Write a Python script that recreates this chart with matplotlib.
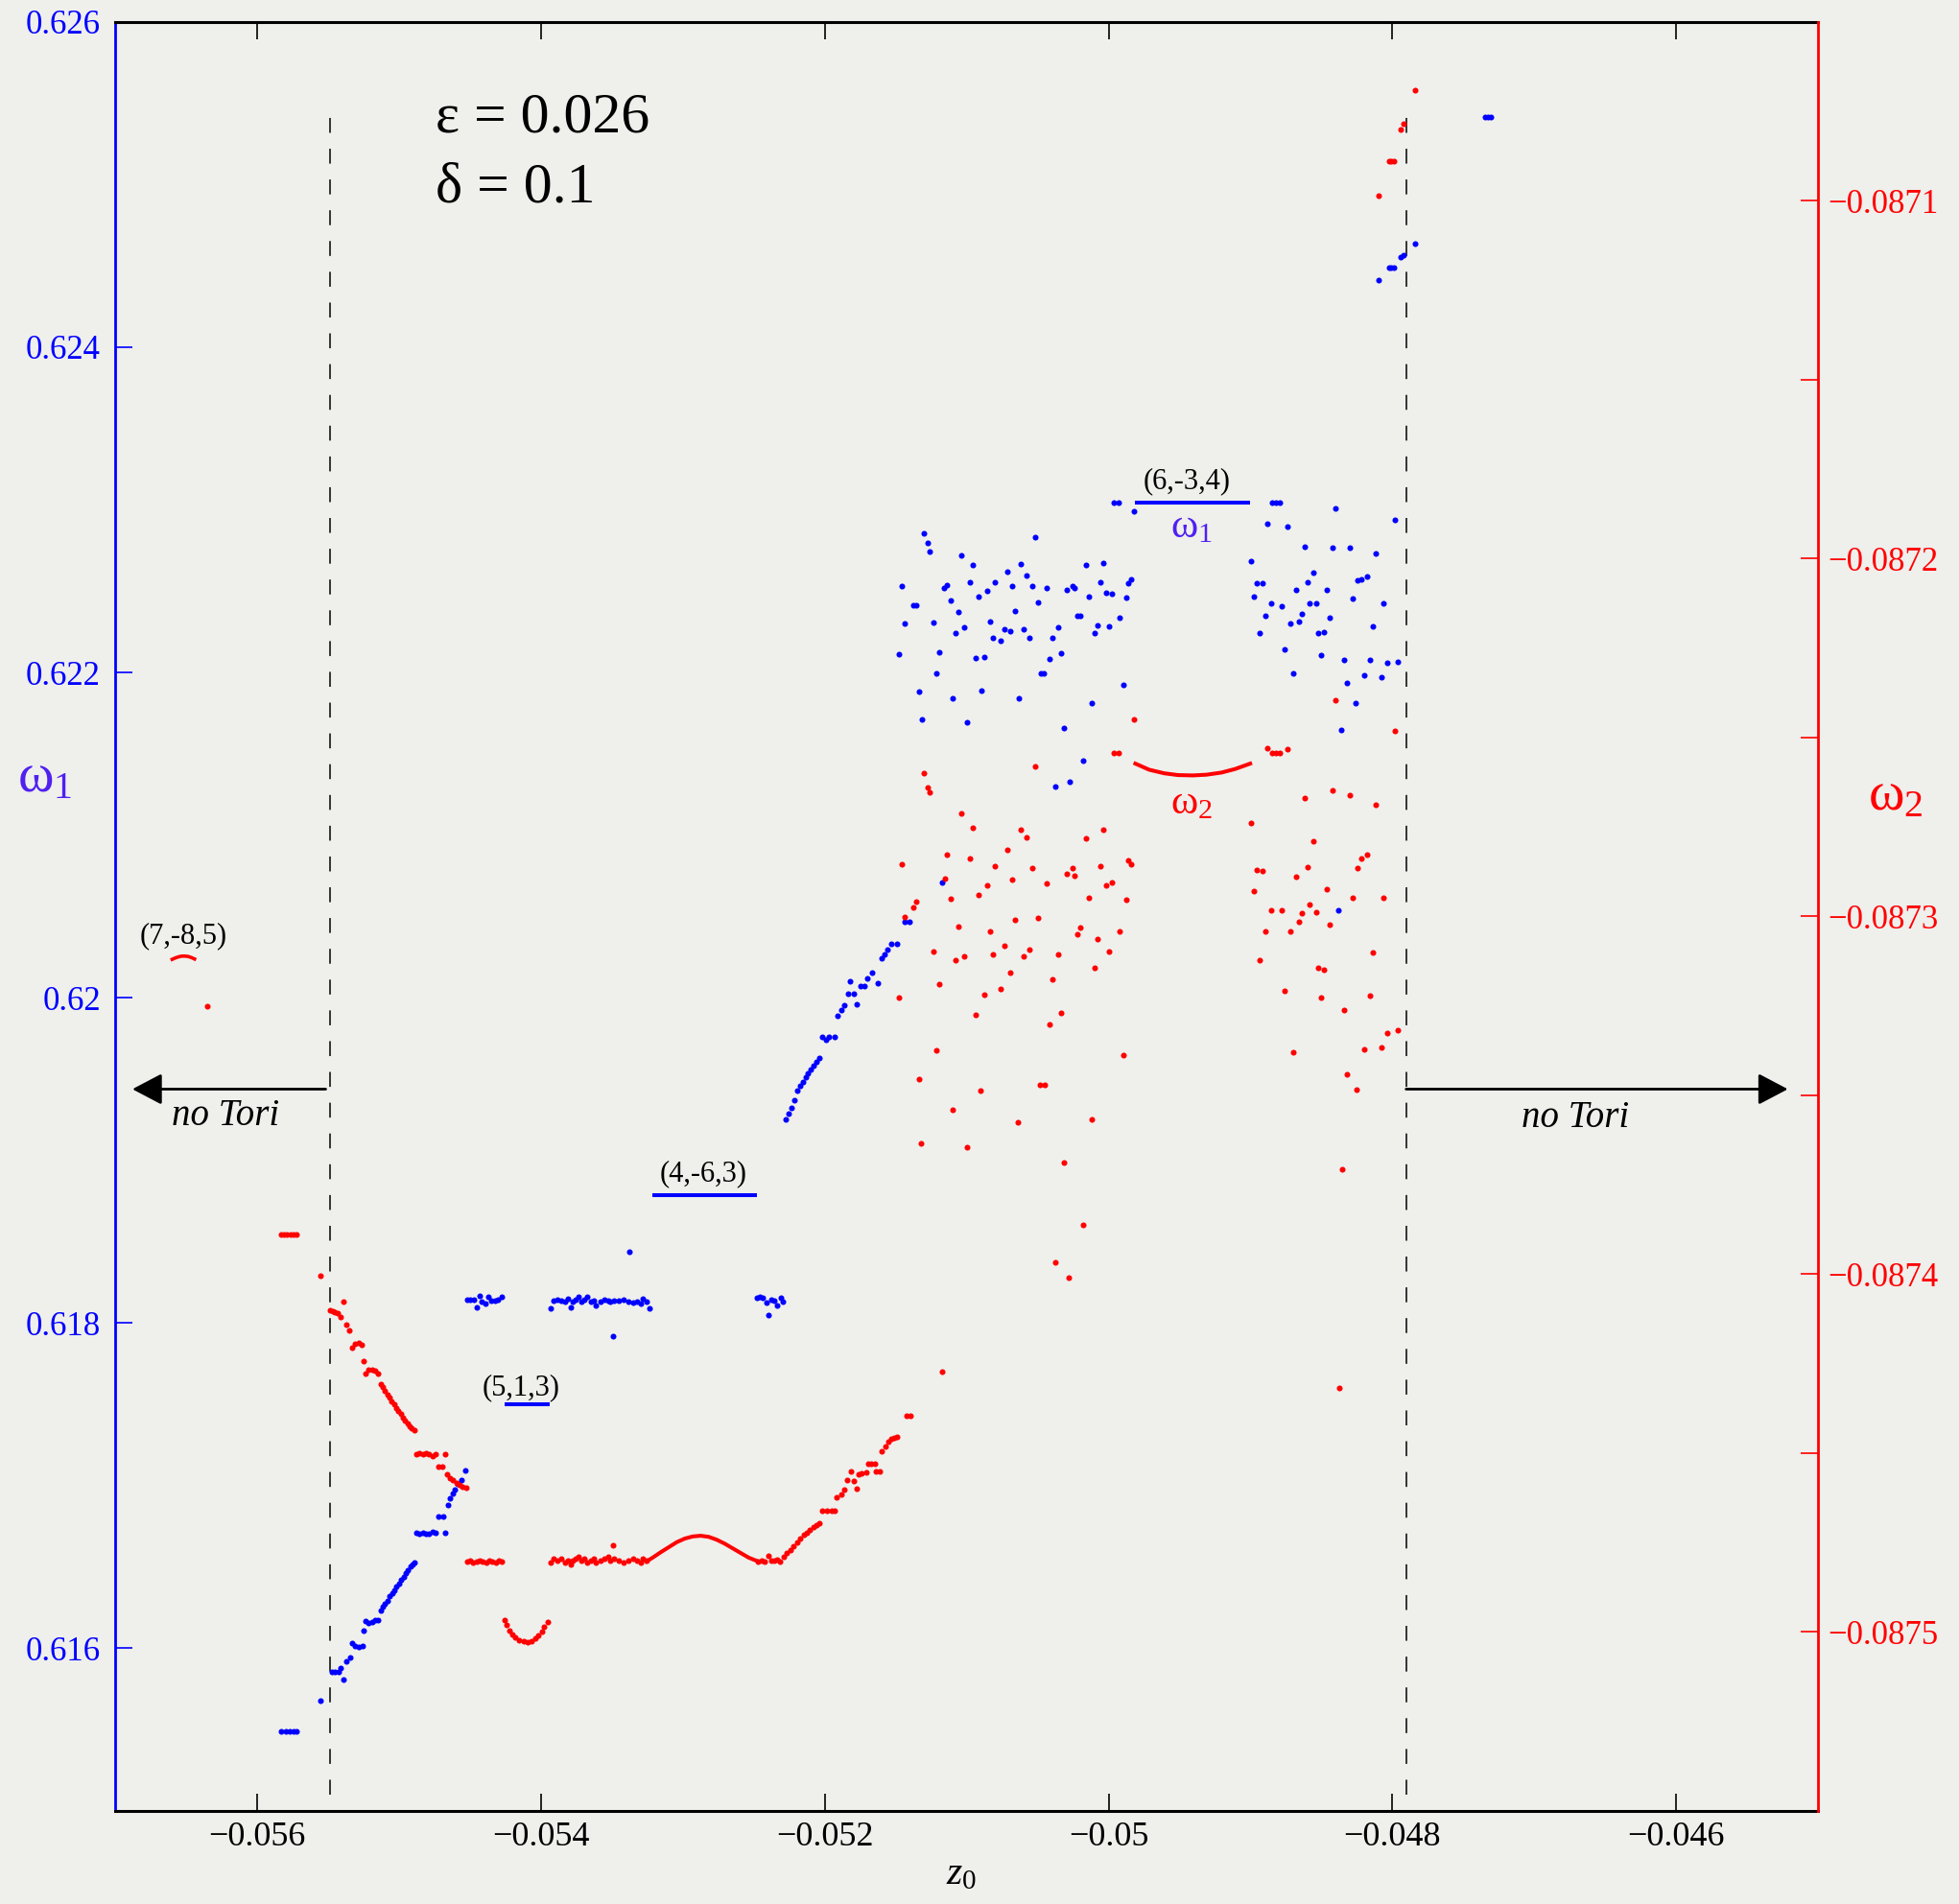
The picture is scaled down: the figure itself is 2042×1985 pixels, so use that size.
import numpy as np
import matplotlib
matplotlib.use("Agg")
import matplotlib.pyplot as plt

plt.rcParams["font.family"] = ["Liberation Serif", "DejaVu Serif"]
plt.rcParams["mathtext.fontset"] = "custom"
plt.rcParams["mathtext.rm"] = "Liberation Serif"
plt.rcParams["mathtext.it"] = "Liberation Serif:italic"

BLUE = "#0000ff"
RED = "#ff0000"
VIOLET = "#5020f0"
BG = "#efefec"

# ---------------- axes ----------------
x_ticks = [-0.056, -0.054, -0.052, -0.05, -0.048, -0.046]
x_tick_labels = ["\u22120.056", "\u22120.054", "\u22120.052", "\u22120.05", "\u22120.048", "\u22120.046"]
w1_ticks = [0.616, 0.618, 0.62, 0.622, 0.624, 0.626]
w1_tick_labels = ["0.616", "0.618", "0.62", "0.622", "0.624", "0.626"]
w2_ticks = [-0.0875, -0.0874, -0.0873, -0.0872, -0.0871]
w2_tick_labels = ["\u22120.0875", "\u22120.0874", "\u22120.0873", "\u22120.0872", "\u22120.0871"]
w2_minor = [-0.08745, -0.08735, -0.08725, -0.08715]

# ---------------- omega_1 (blue) ----------------
# chaotic cloud, left half
w1_cloud_z = [-0.0512991, -0.0512766, -0.0512586, -0.0505159, -0.0510358, -0.0509570, -0.0506172, -0.0501581, -0.0500388,
              -0.0514566, -0.0511573, -0.0511371, -0.0509773, -0.0507995, -0.0507162, -0.0506780, -0.0505789, -0.0505384,
              -0.0504394, -0.0502976, -0.0502571, -0.0502391, -0.0500591, -0.0500186, -0.0499781, -0.0498588, -0.0498385,
              -0.0501379, -0.0498768,
              -0.0513779, -0.0513554, -0.0511146, -0.0510583, -0.0509188, -0.0508558, -0.0506577, -0.0504979,
              -0.0514364, -0.0512361, -0.0510763, -0.0510178, -0.0508378, -0.0508175, -0.0507590, -0.0507365, -0.0506960,
              -0.0505970, -0.0505564, -0.0503967, -0.0503562, -0.0502234, -0.0501964, -0.0500996, -0.0500771, -0.0499983,
              -0.0499196,
              -0.0514746, -0.0511956, -0.0509368, -0.0508783, -0.0504169, -0.0503359, -0.0504777, -0.0504552, -0.0512158,
              -0.0513351, -0.0510966, -0.0508963, -0.0506352, -0.0501198, -0.0498970,
              -0.0513171, -0.0509975, -0.0503179,
              -0.0501784, -0.0503764, -0.0502774,
              -0.0511753,
              -0.0499601, -0.0499263, -0.0498183]
w1_cloud_w = [0.6228559, 0.6227981, 0.6227452, 0.6228294, 0.6227188, 0.6226635, 0.6226683, 0.6226635, 0.6226731,
              0.6225336, 0.6225167, 0.6225360, 0.6225528, 0.6225528, 0.6226178, 0.6225312, 0.6225937, 0.6225288,
              0.6225167, 0.6225095, 0.6225336, 0.6225167, 0.6225528, 0.6224903, 0.6224855, 0.6225504, 0.6225720,
              0.6224662, 0.6224590,
              0.6224109, 0.6224157, 0.6224422, 0.6223724, 0.6224662, 0.6224999, 0.6223772, 0.6224301,
              0.6223027, 0.6223075, 0.6222425, 0.6222786, 0.6223123, 0.6222137, 0.6221944, 0.6222666, 0.6222521,
              0.6222666, 0.6222113, 0.6222137, 0.6222786, 0.6223484, 0.6223484, 0.6222425, 0.6222906, 0.6222834,
              0.6223387,
              0.6221127, 0.6221223, 0.6220886, 0.6220934, 0.6220838, 0.6221199, 0.6219924, 0.6219924, 0.6219972,
              0.6218818, 0.6218408, 0.6218866, 0.6218384, 0.6218096, 0.6219250,
              0.6217110, 0.6216917, 0.6216556,
              0.6214584, 0.6212996, 0.6213261,
              0.6207103,
              0.6230435, 0.6230435, 0.6229882]
# chaotic cloud, right half
w1_cloud2_z = [-0.0488464, -0.0488239, -0.0487921, -0.0484008, -0.0479799, -0.0488801, -0.0487383,
               -0.0486191, -0.0484188, -0.0482995, -0.0481194, -0.0489994,
               -0.0485583, -0.0482455, -0.0482207, -0.0481780, -0.0489589, -0.0489184, -0.0485988, -0.0486798, -0.0484615,
               -0.0489791, -0.0482792, -0.0488576, -0.0487788, -0.0485808, -0.0485380, -0.0480609,
               -0.0488981, -0.0486393, -0.0484390, -0.0487203, -0.0486596, -0.0481397,
               -0.0489386, -0.0485200, -0.0484795,
               -0.0487608, -0.0484998, -0.0483400, -0.0481600, -0.0480384, -0.0479597,
               -0.0487001, -0.0482005, -0.0480789, -0.0483197,
               -0.0482612, -0.0483580, -0.0483783]
w1_cloud2_w = [0.6230435, 0.6230435, 0.6230435, 0.6230074, 0.6229377, 0.6229160, 0.6228968,
               0.6227717, 0.6227693, 0.6227693, 0.6227332, 0.6226851,
               0.6226129, 0.6225672, 0.6225696, 0.6225889, 0.6225480, 0.6225480, 0.6225552, 0.6225047, 0.6225071,
               0.6224638, 0.6224542, 0.6224253, 0.6224085, 0.6224253, 0.6224253, 0.6224229,
               0.6223484, 0.6223628, 0.6223387, 0.6223003, 0.6223147, 0.6222834,
               0.6222425, 0.6222449, 0.6222473,
               0.6221439, 0.6221055, 0.6220742, 0.6220742, 0.6220597, 0.6220645,
               0.6219972, 0.6219852, 0.6219683, 0.6219370,
               0.6218096, 0.6216484, 0.6205372]
# rising branch below the cloud
w1_chain_z = [-0.0514365, -0.0514038, -0.0514922, -0.0515347, -0.0515576, -0.0515773, -0.0515969, -0.0516263,
              -0.0516656, -0.0516983, -0.0517212, -0.0517474, -0.0518194, -0.0518390, -0.0517965, -0.0518619,
              -0.0517768, -0.0518848, -0.0519110, -0.0519274, -0.0519699, -0.0520157, -0.0519928, -0.0520353,
              -0.0520582, -0.0520811, -0.0521008, -0.0521171, -0.0521335, -0.0521531, -0.0521728, -0.0521924,
              -0.0522153, -0.0522349, -0.0522546, -0.0522742]
w1_chain_w = [0.6204666, 0.6204666, 0.6203330, 0.6203330, 0.6202937, 0.6202642, 0.6202407, 0.6200894,
              0.6201522, 0.6201169, 0.6200717, 0.6200717, 0.6200992, 0.6200245, 0.6200226, 0.6199538,
              0.6199577, 0.6199263, 0.6198909, 0.6197593, 0.6197593, 0.6197593, 0.6197396, 0.6196316,
              0.6196060, 0.6195805, 0.6195569, 0.6195333, 0.6195117, 0.6194842, 0.6194587, 0.6194272,
              0.6193722, 0.6193251, 0.6192897, 0.6192504]
# lower-left branch
w1_low_z = [-0.05583, -0.05580, -0.05577, -0.05574, -0.05572, -0.0555521,
            -0.0554733, -0.0554508, -0.0554283, -0.0553900, -0.0554126, -0.0553720, -0.0553451,
            -0.0553316, -0.0553090, -0.0552866, -0.0552595, -0.0552528, -0.0552370, -0.0552145, -0.0551920,
            -0.0551695, -0.0551470,
            -0.0551290, -0.0551133, -0.0550975, -0.0550795, -0.0550638, -0.0550480, -0.0550323, -0.0550165,
            -0.0550008, -0.0549850, -0.0549670, -0.0549513, -0.0549355, -0.0549198, -0.0549040, -0.0548883,
            -0.0548770, -0.0548545, -0.0548320, -0.0548095, -0.0547870, -0.0547645, -0.0547420, -0.0546768,
            -0.0547195, -0.0546858,
            -0.0546565, -0.0546407, -0.0546227, -0.0546070, -0.0545845, -0.0545620, -0.0545327]
w1_low_w = [0.6154906, 0.6154906, 0.6154906, 0.6154906, 0.6154906, 0.6156800,
            0.6158527, 0.6158527, 0.6158527, 0.6158059, 0.6158791, 0.6159177, 0.6159441,
            0.6160295, 0.6160153, 0.6160092, 0.6160153, 0.6161108, 0.6161677, 0.6161575, 0.6161636,
            0.6161717, 0.6161717,
            0.6162327, 0.6162530, 0.6162734, 0.6162937, 0.6163181, 0.6163384, 0.6163587, 0.6163790,
            0.6163994, 0.6164197, 0.6164400, 0.6164603, 0.6164807, 0.6165010, 0.6165172, 0.6165294,
            0.6167103, 0.6167062, 0.6167103, 0.6167022, 0.6167062, 0.6167164, 0.6167103, 0.6167103,
            0.6168079, 0.6168079,
            0.6168831, 0.6169196, 0.6169501, 0.6169765, 0.6170111, 0.6170314, 0.6170924]
# scattered points near 0.618
w1_mid_z = [-0.0545215, -0.0544990, -0.0544720, -0.0544495, -0.0544315, -0.0544157, -0.0543932, -0.0543707,
            -0.0543482, -0.0543257, -0.0543032, -0.0542740,
            -0.0539319, -0.0539139, -0.0538869, -0.0538599, -0.0538307, -0.0538082, -0.0537924, -0.0537744,
            -0.0537564, -0.0537339, -0.0537182, -0.0536957, -0.0536732, -0.0536506, -0.0536281, -0.0536124,
            -0.0535831, -0.0535539, -0.0535269, -0.0535156, -0.0534819, -0.0534481, -0.0534144, -0.0533806,
            -0.0533469, -0.0533199, -0.0532974, -0.0532794, -0.0532569, -0.0532344,
            -0.0533739, -0.0534931,
            -0.0524806, -0.0524581, -0.0524356, -0.0524131, -0.0523793, -0.0523568, -0.0523343, -0.0523118,
            -0.0522938, -0.0523973]
w1_mid_w = [0.6181431, 0.6181431, 0.6181431, 0.6180984, 0.6181695, 0.6181289, 0.6181187, 0.6181593,
            0.6181390, 0.6181390, 0.6181431, 0.6181634,
            0.6180882, 0.6181390, 0.6181431, 0.6181390, 0.6181289, 0.6181492, 0.6180943, 0.6181289,
            0.6181431, 0.6181634, 0.6181289, 0.6181431, 0.6181634, 0.6181289, 0.6181390, 0.6181085,
            0.6181289, 0.6181431, 0.6181390, 0.6181289, 0.6181390, 0.6181390, 0.6181431, 0.6181289,
            0.6181228, 0.6181289, 0.6181187, 0.6181492, 0.6181289, 0.6180882,
            0.6184378, 0.6179175,
            0.6181525, 0.6181631, 0.6181525, 0.6181252, 0.6181420, 0.6181357, 0.6181105, 0.6181525,
            0.6181315, 0.6180473]
# points beyond the right border line
w1_top_z = [-0.0473503, -0.0473278, -0.0473053, -0.0478409, -0.0479422, -0.0479196, -0.0480254, -0.0480096,
            -0.0479917, -0.0480997]
w1_top_w = [0.6254172, 0.6254172, 0.6254172, 0.6246373, 0.6245548, 0.6245686, 0.6244880, 0.6244880,
            0.6244880, 0.6244134]
# resonance plateaus
res_labels = ["(4,-6,3)", "(5,1,3)", "(6,-3,4)"]
res_z_start = [-0.0532119, -0.0542582, -0.0498111]
res_z_end = [-0.0524806, -0.0539387, -0.0490024]
res_w1 = [0.6187882, 0.6174988, 0.6230451]

# ---------------- omega_2 (red) ----------------
w2_cloud_z = [-0.0498183, -0.0499601, -0.0499263, -0.0505159, -0.0512991, -0.0512766, -0.0512586, -0.0510358,
              -0.0509570, -0.0506172, -0.0505767, -0.0501581, -0.0500388,
              -0.0514566, -0.0511371, -0.0509773, -0.0507995, -0.0507162, -0.0505384, -0.0504394, -0.0502976,
              -0.0502571, -0.0502391, -0.0500591, -0.0500186, -0.0499781, -0.0498588, -0.0498385,
              -0.0511551, -0.0511146, -0.0509188, -0.0508558, -0.0506780, -0.0501379, -0.0498768,
              -0.0513779, -0.0513554, -0.0514364, -0.0510583, -0.0508378, -0.0506577, -0.0504979, -0.0502234,
              -0.0501964, -0.0500771, -0.0499196,
              -0.0512361, -0.0510763, -0.0510178, -0.0508175, -0.0507365, -0.0505970, -0.0505564, -0.0503562,
              -0.0499983, -0.0500996,
              -0.0511956, -0.0508783, -0.0507590, -0.0506960, -0.0503967, -0.0514746,
              -0.0509368, -0.0504169, -0.0503359,
              -0.0512158, -0.0498970]
w2_cloud_w = [-0.0872450, -0.0872543, -0.0872543, -0.0872581, -0.0872600, -0.0872641, -0.0872652, -0.0872711,
              -0.0872753, -0.0872757, -0.0872779, -0.0872782, -0.0872759,
              -0.0872854, -0.0872828, -0.0872839, -0.0872860, -0.0872813, -0.0872866, -0.0872907, -0.0872880,
              -0.0872864, -0.0872887, -0.0872860, -0.0872912, -0.0872906, -0.0872844, -0.0872854,
              -0.0872894, -0.0872952, -0.0872940, -0.0872912, -0.0872896, -0.0872947, -0.0872954,
              -0.0872975, -0.0872958, -0.0873003, -0.0873029, -0.0873041, -0.0873010, -0.0873004, -0.0873049,
              -0.0873032, -0.0873062, -0.0873043,
              -0.0873098, -0.0873122, -0.0873111, -0.0873107, -0.0873083, -0.0873111, -0.0873093, -0.0873107,
              -0.0873097, -0.0873143,
              -0.0873190, -0.0873218, -0.0873202, -0.0873156, -0.0873176, -0.0873227,
              -0.0873276, -0.0873302, -0.0873269,
              -0.0873374, -0.0873389]
w2_cloud2_z = [-0.0484008, -0.0479799, -0.0488801, -0.0488464, -0.0488239, -0.0487921, -0.0487383,
               -0.0484188, -0.0482995, -0.0486191, -0.0481194, -0.0489994, -0.0485583,
               -0.0482207, -0.0481780, -0.0482455, -0.0485988, -0.0489589, -0.0489184, -0.0486798,
               -0.0489791, -0.0484615, -0.0482792, -0.0480609,
               -0.0488576, -0.0487788, -0.0485808, -0.0485380, -0.0486393, -0.0484390, -0.0486596, -0.0487203,
               -0.0488981,
               -0.0481397, -0.0489386, -0.0485200, -0.0484795,
               -0.0487608, -0.0484998, -0.0481600, -0.0483400,
               -0.0480384, -0.0479597, -0.0482005, -0.0480789, -0.0487001]
w2_cloud2_w = [-0.0872396, -0.0872482, -0.0872530, -0.0872543, -0.0872543, -0.0872543, -0.0872533,
               -0.0872647, -0.0872660, -0.0872669, -0.0872688, -0.0872738, -0.0872789,
               -0.0872837, -0.0872828, -0.0872865, -0.0872861, -0.0872870, -0.0872874, -0.0872889,
               -0.0872929, -0.0872923, -0.0872947, -0.0872948,
               -0.0872982, -0.0872982, -0.0872967, -0.0872988, -0.0872990, -0.0873022, -0.0873015, -0.0873042,
               -0.0873043,
               -0.0873102, -0.0873123, -0.0873145, -0.0873148,
               -0.0873207, -0.0873226, -0.0873221, -0.0873263,
               -0.0873326, -0.0873318, -0.0873372, -0.0873365, -0.0873380]
w2_sparse_z = [-0.0513351, -0.0509000, -0.0504844, -0.0504484, -0.0483216, -0.0482562, -0.0510995, -0.0506382,
               -0.0501179, -0.0513188, -0.0509981, -0.0503175, -0.0483576, -0.0501768, -0.0503764, -0.0502783,
               -0.0483772]
w2_sparse_w = [-0.0873455, -0.0873487, -0.0873472, -0.0873472, -0.0873442, -0.0873483, -0.0873540, -0.0873576,
               -0.0873567, -0.0873635, -0.0873645, -0.0873688, -0.0873706, -0.0873861, -0.0873968, -0.0874009,
               -0.0874318]
# rising branch after the wave
w2_rise_z = [-0.0524693, -0.0524468, -0.0524243, -0.0523973, -0.0523793, -0.0523568, -0.0523343, -0.0523163,
             -0.0522893, -0.0522668, -0.0522443, -0.0522218, -0.0521948, -0.0521723, -0.0521498, -0.0521273,
             -0.0521048, -0.0520823, -0.0520598, -0.0520373,
             -0.0520193, -0.0519855, -0.0519518, -0.0519293, -0.0519181, -0.0518843, -0.0518618, -0.0518393,
             -0.0518168, -0.0517943, -0.0517763, -0.0517605, -0.0517380, -0.0517088, -0.0516930, -0.0516705,
             -0.0516480, -0.0516368, -0.0516098, -0.0515963, -0.0515738, -0.0515513, -0.0515288, -0.0515086,
             -0.0514905, -0.0514230, -0.0513937, -0.0511755]
w2_rise_w = [-0.0874804, -0.0874801, -0.0874804, -0.0874787, -0.0874801, -0.0874801, -0.0874798, -0.0874804,
             -0.0874789, -0.0874779, -0.0874770, -0.0874760, -0.0874749, -0.0874739, -0.0874729, -0.0874722,
             -0.0874715, -0.0874707, -0.0874701, -0.0874696,
             -0.0874662, -0.0874660, -0.0874660, -0.0874660, -0.0874624, -0.0874615, -0.0874603, -0.0874576,
             -0.0874550, -0.0874578, -0.0874600, -0.0874560, -0.0874557, -0.0874555, -0.0874530, -0.0874530,
             -0.0874530, -0.0874552, -0.0874550, -0.0874495, -0.0874481, -0.0874469, -0.0874459, -0.0874457,
             -0.0874455, -0.0874397, -0.0874397, -0.0874272]
# lower-left branch
w2_low_z = [-0.0558333, -0.0558108, -0.0557883, -0.0557658, -0.0557433, -0.0557208, -0.0555521, -0.0553900,
            -0.0554846, -0.0554666, -0.0554508, -0.0554351, -0.0554126, -0.0553720, -0.0553496, -0.0553316,
            -0.0553090, -0.0552866, -0.0552641, -0.0552528, -0.0552370, -0.0552145, -0.0551920, -0.0551695,
            -0.0551470,
            -0.0551290, -0.0551133, -0.0550975, -0.0550818, -0.0550660, -0.0550503, -0.0550345, -0.0550188,
            -0.0550030, -0.0549873, -0.0549715, -0.0549558, -0.0549400, -0.0549243, -0.0549085, -0.0548905,
            -0.0548770, -0.0548545, -0.0548320, -0.0548095, -0.0547870, -0.0547645, -0.0547420, -0.0546745,
            -0.0547195, -0.0546970,
            -0.0546632, -0.0546407, -0.0546182, -0.0545957, -0.0545732, -0.0545507, -0.0545282]
w2_low_w = [-0.0873890, -0.0873890, -0.0873890, -0.0873890, -0.0873890, -0.0873890, -0.0874003, -0.0874078,
            -0.0874101, -0.0874103, -0.0874105, -0.0874110, -0.0874120, -0.0874140, -0.0874157, -0.0874206,
            -0.0874195, -0.0874193, -0.0874197, -0.0874243, -0.0874277, -0.0874267, -0.0874267, -0.0874271,
            -0.0874277,
            -0.0874306, -0.0874316, -0.0874327, -0.0874336, -0.0874346, -0.0874355, -0.0874364, -0.0874373,
            -0.0874382, -0.0874391, -0.0874401, -0.0874408, -0.0874417, -0.0874425, -0.0874430, -0.0874437,
            -0.0874503, -0.0874500, -0.0874503, -0.0874500, -0.0874503, -0.0874508, -0.0874503, -0.0874503,
            -0.0874537, -0.0874537,
            -0.0874560, -0.0874570, -0.0874576, -0.0874583, -0.0874590, -0.0874593, -0.0874597]
# flat parts at the bottom
w2_flat_z = [-0.0545215, -0.0544990, -0.0544765, -0.0544540, -0.0544315, -0.0544090, -0.0543865, -0.0543640,
             -0.0543415, -0.0543190, -0.0542965, -0.0542740,
             -0.0539319, -0.0539139, -0.0538869, -0.0538599, -0.0538307, -0.0538082, -0.0537924, -0.0537744,
             -0.0537564, -0.0537339, -0.0537182, -0.0536957, -0.0536732, -0.0536506, -0.0536281, -0.0536124,
             -0.0535831, -0.0535539, -0.0535269, -0.0535156, -0.0534819, -0.0534481, -0.0534144, -0.0533806,
             -0.0533469, -0.0533199, -0.0532974, -0.0532794, -0.0532569, -0.0534931]
w2_flat_w = [-0.0874803, -0.0874801, -0.0874807, -0.0874803, -0.0874801, -0.0874803, -0.0874807, -0.0874801,
             -0.0874803, -0.0874805, -0.0874801, -0.0874803,
             -0.0874805, -0.0874796, -0.0874801, -0.0874796, -0.0874805, -0.0874801, -0.0874810, -0.0874801,
             -0.0874796, -0.0874791, -0.0874801, -0.0874796, -0.0874805, -0.0874801, -0.0874796, -0.0874805,
             -0.0874801, -0.0874796, -0.0874791, -0.0874801, -0.0874796, -0.0874801, -0.0874805, -0.0874801,
             -0.0874796, -0.0874801, -0.0874805, -0.0874796, -0.0874801, -0.0874757]
# (5,1,3) dip
w2_dip_z = [-0.0542582, -0.0542424, -0.0542244, -0.0542019, -0.0541794, -0.0541569, -0.0541232, -0.0540939,
            -0.0540669, -0.0540399, -0.0540174, -0.0539949, -0.0539769, -0.0539544]
w2_dip_w = [-0.0874967, -0.0874981, -0.0874995, -0.0875007, -0.0875016, -0.0875022, -0.0875027, -0.0875029,
            -0.0875025, -0.0875018, -0.0875009, -0.0874998, -0.0874985, -0.0874972]
# (4,-6,3) wave
w2_wave_z = [-0.0532569, -0.0532119, -0.0531556, -0.0530994, -0.0530431, -0.0529869, -0.0529306, -0.0528744,
             -0.0528181, -0.0527619, -0.0527056, -0.0526494, -0.0525931, -0.0525368, -0.0524806]
w2_wave_w = [-0.0874803, -0.0874792, -0.0874777, -0.0874763, -0.0874749, -0.0874739, -0.0874733, -0.0874731,
             -0.0874734, -0.0874742, -0.0874753, -0.0874766, -0.0874779, -0.0874792, -0.0874801]
# (6,-3,4) arc
w2_arc_z = [-0.0498111, -0.0497143, -0.0496089, -0.0495122, -0.0494067, -0.0493100, -0.0492045, -0.0491078, -0.0490024]
w2_arc_w = [-0.0872573, -0.0872590, -0.0872600, -0.0872605, -0.0872606, -0.0872604, -0.0872598, -0.0872588, -0.0872573]
# (7,-8,5) arc and lone point
w2_arc2_z = [-0.0565983, -0.0565758, -0.0565533, -0.0565308, -0.0565083, -0.0564858, -0.0564633, -0.0564408]
w2_arc2_w = [-0.0873120, -0.0873116, -0.0873113, -0.0873111, -0.0873111, -0.0873112, -0.0873115, -0.0873119]
w2_lone_z = [-0.0563508]
w2_lone_w = [-0.0873250]
# beyond the right border line
w2_top_z = [-0.0478409, -0.0479196, -0.0479422, -0.0480254, -0.0480096, -0.0479917, -0.0480997]
w2_top_w = [-0.0870691, -0.0870784, -0.0870802, -0.0870889, -0.0870889, -0.0870889, -0.0870987]

# torus-existence borders
border_z = [-0.0554857, -0.0479035]

# ---------------- figure ----------------
fig = plt.figure(figsize=(20.42, 19.85), dpi=100, facecolor=BG)
ax = fig.add_axes([0.0588, 0.0489, 0.8693, 0.9396])
ax.set_facecolor(BG)
ax2 = ax.twinx()

ax.set_xlim(-0.057, -0.045)
ax.set_ylim(0.615, 0.626)
ax2.set_ylim(-0.08755, -0.08705)

MS = 19
blue_z = np.concatenate([w1_cloud_z, w1_cloud2_z, w1_chain_z, w1_low_z, w1_mid_z, w1_top_z])
blue_w = np.concatenate([w1_cloud_w, w1_cloud2_w, w1_chain_w, w1_low_w, w1_mid_w, w1_top_w])
ax.scatter(blue_z, blue_w, s=MS, color=BLUE, linewidths=0, zorder=3)
for zs, ze, w in zip(res_z_start, res_z_end, res_w1):
    ax.plot([zs, ze], [w, w], color=BLUE, lw=2.9, solid_capstyle="butt", zorder=3)

red_z = np.concatenate([w2_cloud_z, w2_cloud2_z, w2_sparse_z, w2_rise_z, w2_low_z, w2_flat_z,
                        w2_dip_z, w2_lone_z, w2_top_z])
red_w = np.concatenate([w2_cloud_w, w2_cloud2_w, w2_sparse_w, w2_rise_w, w2_low_w, w2_flat_w,
                        w2_dip_w, w2_lone_w, w2_top_w])
ax2.scatter(red_z, red_w, s=MS, color=RED, linewidths=0, zorder=3)
ax2.plot(w2_wave_z, w2_wave_w, color=RED, lw=2.9, zorder=3)
ax2.plot(w2_arc_z, w2_arc_w, color=RED, lw=2.9, zorder=3)
ax2.plot(w2_arc2_z, w2_arc2_w, color=RED, lw=2.6, zorder=3)

# dashed border lines
ax.plot([border_z[0]] * 2, [0.6151, 0.62546], color="#333333", lw=1.4, ls=(0, (8, 8.5)), zorder=2)
ax.plot([border_z[1]] * 2, [0.6151, 0.62550], color="#333333", lw=1.4, ls=(0, (8, 8.5)), zorder=2)

# arrows
arrow_w = 0.6194379
for tail, tip in [(-0.0555165, -0.0568791), (-0.0479035, -0.0452134)]:
    ax.annotate("", xy=(tip, arrow_w), xytext=(tail, arrow_w),
                arrowprops=dict(arrowstyle="-|>,head_length=0.95,head_width=0.5", lw=2.0,
                                color="black", mutation_scale=20, shrinkA=0, shrinkB=0))
ax.text(-0.0562198, 0.6192153, "no Tori", fontsize=28, style="italic", ha="center", va="baseline")
ax.text(-0.0467079, 0.6192076, "no Tori", fontsize=28, style="italic", ha="center", va="baseline")

# parameters
ax.text(-0.0547429, 0.6253246, "\u03b5 = 0.026", fontsize=43, ha="left", va="baseline")
ax.text(-0.0547429, 0.6248902, "\u03b4 = 0.1", fontsize=43, ha="left", va="baseline")

# resonance labels
ax.text(-0.0565196, 0.6203329, "(7,-8,5)", fontsize=22, ha="center", va="baseline")
ax.text(-0.0494507, 0.6231296, res_labels[2], fontsize=22, ha="center", va="baseline")
ax.text(-0.0528581, 0.6188715, res_labels[0], fontsize=22, ha="center", va="baseline")
ax.text(-0.0541425, 0.6175606, res_labels[1], fontsize=22, ha="center", va="baseline")
ax.text(-0.0494155, 0.6228272, "\u03c9$_1$", fontsize=31, color=VIOLET, ha="center", va="baseline")
ax.text(-0.0494155, 0.6211340, "\u03c9$_2$", fontsize=31, color=RED, ha="center", va="baseline")

# axis labels
fig.text(0.0088, 0.5844, "\u03c9$_1$", fontsize=41, color=VIOLET, ha="left", va="baseline")
fig.text(0.9535, 0.5748, "\u03c9$_2$", fontsize=41, color=RED, ha="left", va="baseline")
fig.text(0.4828, 0.0106, "$z_0$", fontsize=30, ha="left", va="baseline")

# ticks
ax.set_xticks(x_ticks)
ax.set_xticklabels(x_tick_labels)
ax.set_yticks(w1_ticks)
ax.set_yticklabels(w1_tick_labels)
ax2.set_yticks(w2_ticks)
ax2.set_yticklabels(w2_tick_labels)
ax2.set_yticks(w2_minor, minor=True)
ax.tick_params(axis="x", direction="in", length=13, width=1.2, top=True, bottom=True,
               labelsize=26, pad=8, color="black")
ax.tick_params(axis="y", direction="in", length=13, width=1.2, left=True, right=False,
               color=BLUE, labelcolor=BLUE, labelsize=25, pad=11)
ax2.tick_params(axis="y", which="both", direction="in", length=13, width=1.2,
                color=RED, labelcolor=RED, labelsize=25, pad=7)

# spines
for s in ["top", "bottom"]:
    ax.spines[s].set_color("black")
    ax.spines[s].set_linewidth(2.2)
    ax2.spines[s].set_visible(False)
ax.spines["left"].set_color(BLUE)
ax.spines["left"].set_linewidth(2.0)
ax.spines["right"].set_visible(False)
ax2.spines["left"].set_visible(False)
ax2.spines["right"].set_color(RED)
ax2.spines["right"].set_linewidth(2.0)

fig.savefig("out.png", dpi=100, facecolor=BG)
